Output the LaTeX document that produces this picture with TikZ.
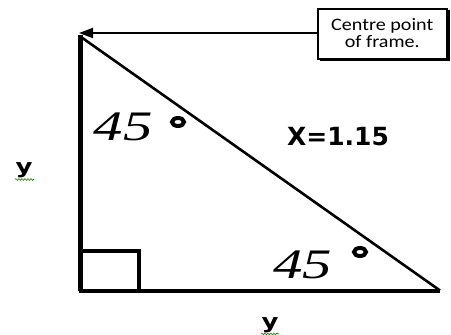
\documentclass[tikz,border=0pt]{standalone}
\usepackage{fontspec}
\setmainfont{Liberation Serif}
\newfontfamily\calib{Carlito}
\newfontfamily\dvs{DejaVu Sans}
\usetikzlibrary{arrows.meta,decorations.pathmorphing}
\tikzset{
  ang/.style={font=\fontsize{42}{42}\selectfont\itshape, inner sep=0pt, xscale=1.4},
  deg/.style={line width=4pt},
  ylab/.style={font=\dvs\bfseries\fontsize{20}{20}\selectfont, inner sep=0pt, xscale=1.3},
  squig/.style={draw=green!55!black, line width=0.6pt, decorate, decoration={snake, segment length=3pt, amplitude=0.9pt}},
}
\begin{document}
\begin{tikzpicture}[x=1pt,y=-1pt]
\useasboundingbox (0,0) rectangle (451,335);
% triangle vertices
\coordinate (A) at (80.5,35);
\coordinate (B) at (80.5,290.5);
\coordinate (C) at (440,290.5);
\draw[line width=4.5pt] (A) -- (B);
\draw[line width=4pt] (78.5,290.5) -- (C);
\draw[line width=2.6pt] (81,37) -- (C);
% right angle square
\coordinate (S1) at (80.5,250.5);
\coordinate (S2) at (138.5,250.5);
\coordinate (S3) at (138.5,290.5);
\draw[line width=4pt] (S1) -- (S2) -- (S3);
% box
\fill (320,10) rectangle (450,61);
\node[draw, fill=white, line width=1.5pt, minimum width=129pt, minimum height=50pt, anchor=north west, inner sep=0pt] (box) at (317,8) {};
\node[align=center, inner sep=0pt, xscale=1.15, font=\calib\fontsize{17.5}{17}\selectfont] (boxtext) at ([yshift=1pt]box.center) {Centre point\\of frame.};
\coordinate (tip) at (79,33);
\draw[line width=2pt, -{Triangle[length=14pt,width=10pt]}] (box.west |- 0,33) -- (tip);
% angles
\node[ang] (a1) at (123,127) {45};
\draw[deg] (178,122) ellipse (6pt and 4pt);
\node[ang] (a2) at (303,265) {45};
\draw[deg] (360,252) ellipse (6pt and 4pt);
% X label
\node[font=\dvs\bfseries\fontsize{25}{25}\selectfont, inner sep=0pt] (xl) at (338,136.5) {X=1.15};
% y labels
\node[ylab] (y1) at (24,170) {y};
\draw[squig] (15,179.5) -- (34,179.5);
\node[ylab] (y2) at (270,325) {y};
\draw[squig] (261,334) -- (279,334);
\end{tikzpicture}
\end{document}
